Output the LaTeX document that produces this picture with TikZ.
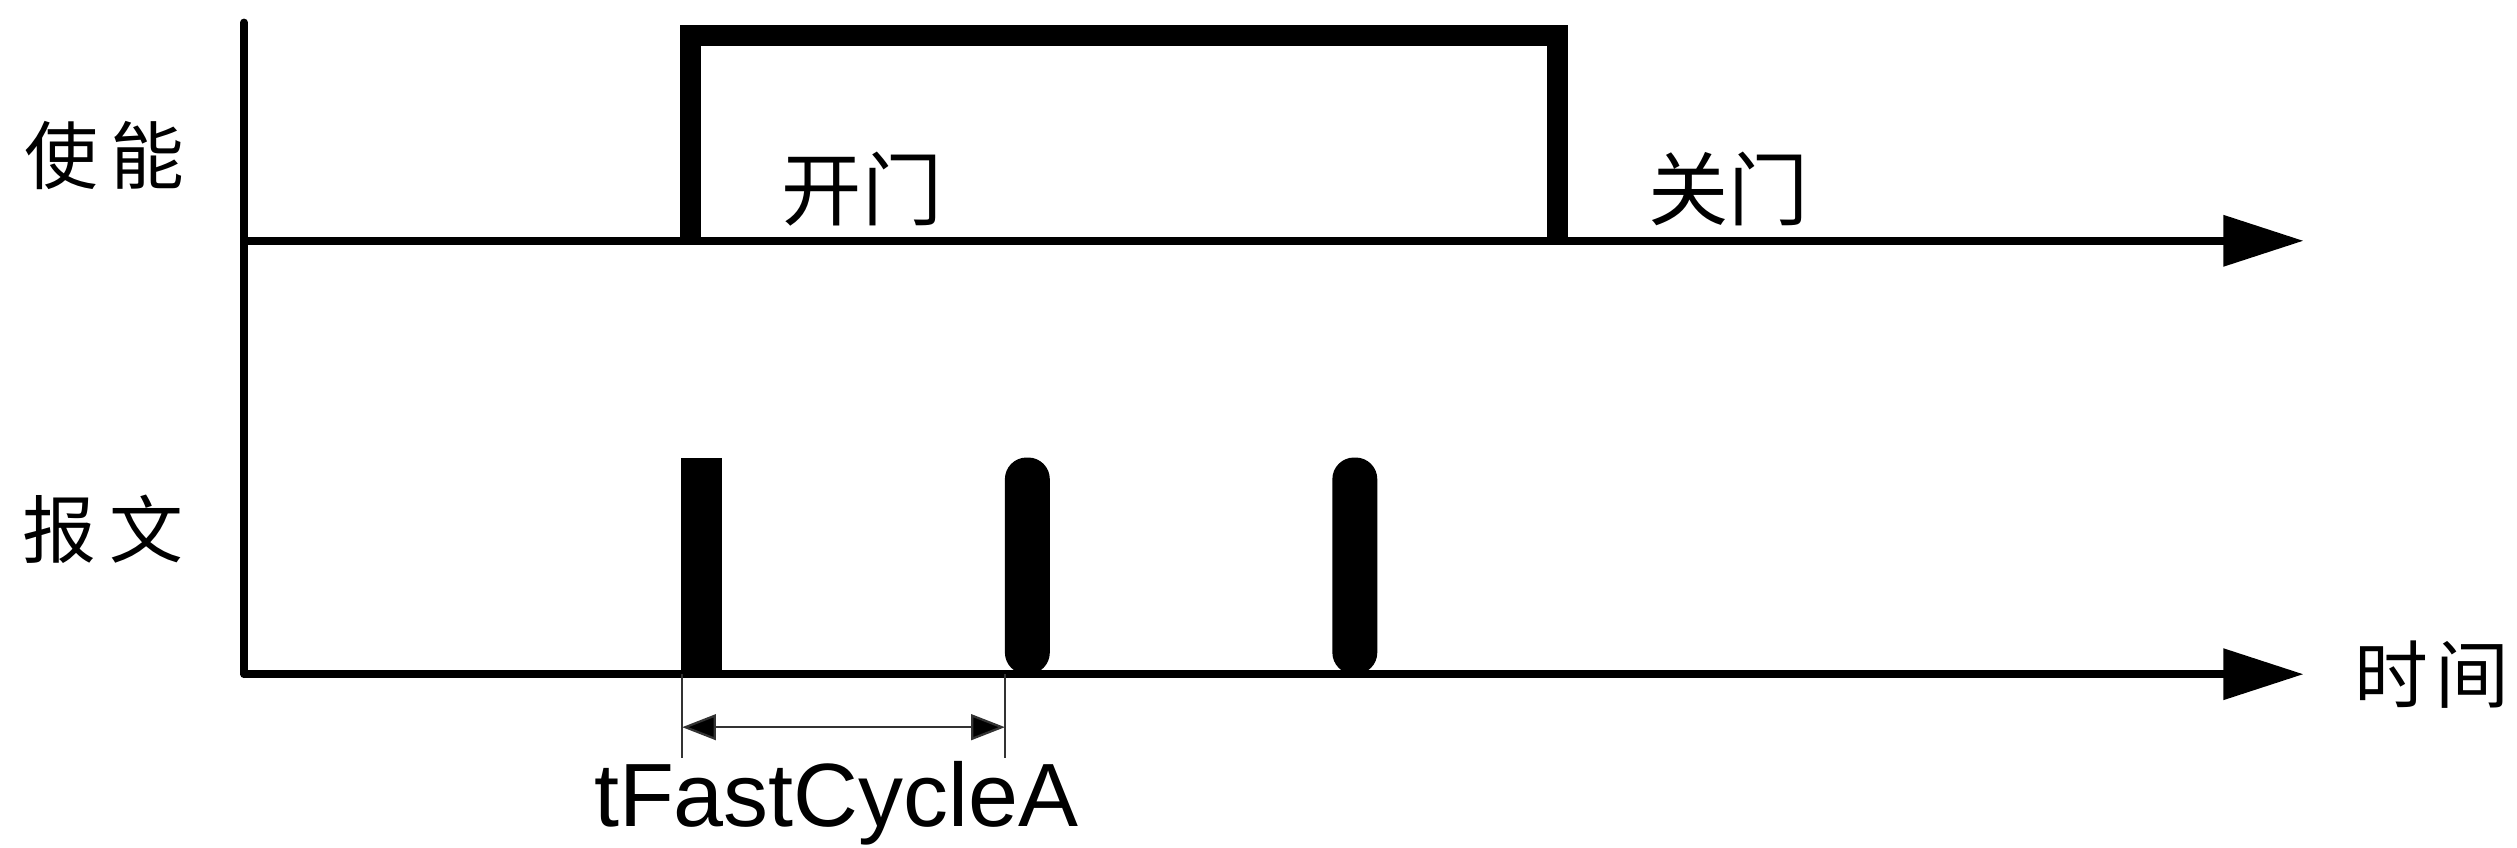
\documentclass[tikz,border=0pt]{standalone}
\usepackage{fontspec}
\setmainfont{Liberation Sans}
\newfontfamily\cjk{Noto Sans CJK SC}
\usetikzlibrary{arrows.meta}
\begin{document}
\begin{tikzpicture}[x=1pt,y=-1pt,
  axis/.style={line width=4.8pt,-{Triangle[length=50pt,width=31pt]}},
  pulse/.style={line width=13pt,line join=miter},
  dimline/.style={line width=1.2pt,black!80},
  dimarrow/.style={line width=1.4pt,black!80,{Triangle[length=21pt,width=16pt,fill=black]}-{Triangle[length=21pt,width=16pt,fill=black]}},
  cjklabel/.style={inner sep=0pt,font=\cjk\fontsize{46}{50}\selectfont},
  lbl/.style={inner sep=0pt,font=\fontsize{56}{60}\selectfont}]
\useasboundingbox (0,0) rectangle (1568,528);
% coordinates
\coordinate (top) at (152,14);
\coordinate (o1) at (152,150);
\coordinate (o2) at (152,420);
\coordinate (e1) at (1435,150);
\coordinate (e2) at (1435,420);
% axes
\draw[line width=4.8pt,line cap=round] (top) -- (o2);
\draw[axis] (o1) -- (e1);
\draw[axis] (o2) -- (e2);
% enable pulse
\coordinate (pa) at (430,150);
\coordinate (pb) at (430,22);
\coordinate (pc) at (970,22);
\coordinate (pd) at (970,150);
\draw[pulse] (pa) -- (pb) -- (pc) -- (pd);
% messages
\fill (424,285) rectangle (450,420);
\fill[rounded corners=13.5pt] (626,285) rectangle (654,420);
\fill[rounded corners=13.5pt] (830,285) rectangle (858,420);
% dimension
\coordinate (d1a) at (425,420);
\coordinate (d1b) at (425,472);
\coordinate (d2a) at (626,420);
\coordinate (d2b) at (626,472);
\draw[dimline] (d1a) -- (d1b);
\draw[dimline] (d2a) -- (d2b);
\coordinate (m1) at (425,453);
\coordinate (m2) at (626,453);
\draw[dimarrow] (m1) -- (m2);
% labels
\node[cjklabel] (en) at (65,97) {使\hspace{8pt}能};
\node[cjklabel] (msg) at (64,330) {报\hspace{8pt}文};
\node[cjklabel,font=\cjk\fontsize{50}{54}\selectfont] (open) at (537,118) {开门};
\node[cjklabel,font=\cjk\fontsize{50}{54}\selectfont] (close) at (1077,118) {关门};
\node[cjklabel] (time) at (1515,420) {时\hspace{4pt}间};
\node[lbl,anchor=base] (tf) at (521,515) {tFastCycleA};
\end{tikzpicture}
\end{document}
